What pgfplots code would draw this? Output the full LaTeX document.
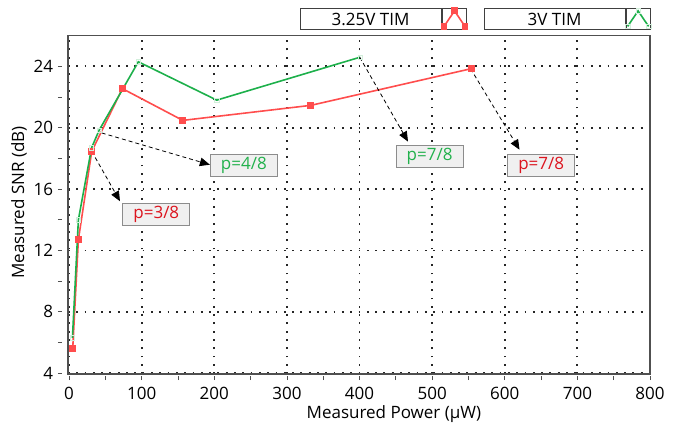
\documentclass[border=0pt]{standalone}
\usepackage{fontspec}
\setmainfont{Open Sans}
\usepackage{pgfplots}
\pgfplotsset{compat=1.18}
\usetikzlibrary{arrows.meta}
\definecolor{redline}{HTML}{FF4D4D}
\definecolor{greenline}{HTML}{1DB04B}
\definecolor{redtext}{HTML}{DC141E}
\definecolor{greentext}{HTML}{22B14C}
\definecolor{boxfill}{HTML}{F0F0F0}
\definecolor{boxdraw}{HTML}{8C8C8C}
\definecolor{framegray}{HTML}{505050}
\definecolor{legendgray}{HTML}{404040}
\tikzset{
    ann/.style={draw=black, line width=0.8bp, dash pattern=on 4bp off 3bp,
        -{Triangle[length=10bp, width=8.5bp]}},
    annbox/.style={draw=boxdraw, fill=boxfill, line width=0.9bp,
        minimum width=67bp, minimum height=22bp, inner sep=0pt}
}
\begin{document}
\fontsize{17bp}{20bp}\selectfont
\begin{tikzpicture}
\path[use as bounding box] (-68bp,-49bp) rectangle (617bp,374bp);
\begin{axis}[
    scale only axis,
    width=582bp, height=338.3bp,
    xmin=-1.5, xmax=800, ymin=3.95, ymax=26,
    xtick={0,100,...,800}, minor xtick={50,150,...,750},
    ytick={4,8,...,24}, minor ytick={6,10,...,22},
    tick pos=left, tick align=outside,
    major tick length=4bp, minor tick length=4bp,
    every tick/.append style={framegray, line width=0.8bp},
    xtick style={yshift=-2bp},
    ytick style={xshift=-6bp},
    axis line style={framegray, line width=1.2bp},
    grid=major,
    major grid style={black!85, line width=1.8bp, dash pattern=on 1.8bp off 6.5bp},
    /pgf/number format/assume math mode=true,
    xticklabel style={yshift=-3bp},
    yticklabel style={xshift=-5bp},
    xlabel={Measured Power (µW)},
    ylabel={Measured SNR (dB)},
    xlabel style={at={(axis description cs:0.56,0)}, anchor=north, yshift=-26bp},
    ylabel style={at={([xshift=-49bp]axis description cs:0,0.507)}, anchor=center},
    legend columns=2,
    legend plot pos=right,
    legend style={at={(axis description cs:1,1)}, anchor=south east, yshift=5.7bp,
        xshift=1bp, draw=none, fill=none, inner sep=0pt,
        cells={anchor=center},
        /tikz/every even column/.append style={column sep=16bp},
        nodes={draw=legendgray, line width=0.8bp, minimum height=21bp,
            minimum width=141bp, inner sep=0pt, text depth=0pt}},
    legend image code/.code={
        \draw[legendgray, line width=0.8bp, fill=white, solid] (0bp,-10.5bp) rectangle (24bp,10.5bp);
        \draw[#1] plot coordinates {(1.5bp,-7.5bp) (12bp,8bp) (22.5bp,-7.5bp)};
    },
]
\addplot[redline, line width=1.6bp, mark=square*, mark size=2.6bp,
    mark options={solid, fill=redline, draw=redline}] coordinates {
    (5,5.6) (12.8,12.7) (31.2,18.46) (73.4,22.55) (156.6,20.48) (333,21.46) (553.7,23.85)
};
\addlegendentry{3.25V TIM}
\addplot[greenline, line width=1.6bp, mark=square, mark size=2.2bp,
    mark options={solid, draw=greenline!20, line width=0.6bp}] coordinates {
    (4.6,6.3) (12.8,14.0) (31,18.7) (41.5,19.85) (95.4,24.3) (203.4,21.8) (400.8,24.6)
};
\addlegendentry{3V TIM}

\draw[ann] (axis cs:31.2,18.46) -- (axis cs:70.1,15.21);
\draw[ann] (axis cs:45,19.66) -- (axis cs:193.9,17.59);
\draw[ann] (axis cs:400.2,24.6) -- (axis cs:466.7,19.1);
\draw[ann] (axis cs:552.9,23.85) -- (axis cs:620.3,18.57);
\node[annbox, text=redtext] at (axis cs:120.1,14.38) {p=3/8};
\node[annbox, text=greentext] at (axis cs:240.7,17.57) {p=4/8};
\node[annbox, text=greentext] at (axis cs:496.5,18.12) {p=7/8};
\node[annbox, text=redtext] at (axis cs:650.1,17.56) {p=7/8};
\end{axis}
\end{tikzpicture}
\end{document}
